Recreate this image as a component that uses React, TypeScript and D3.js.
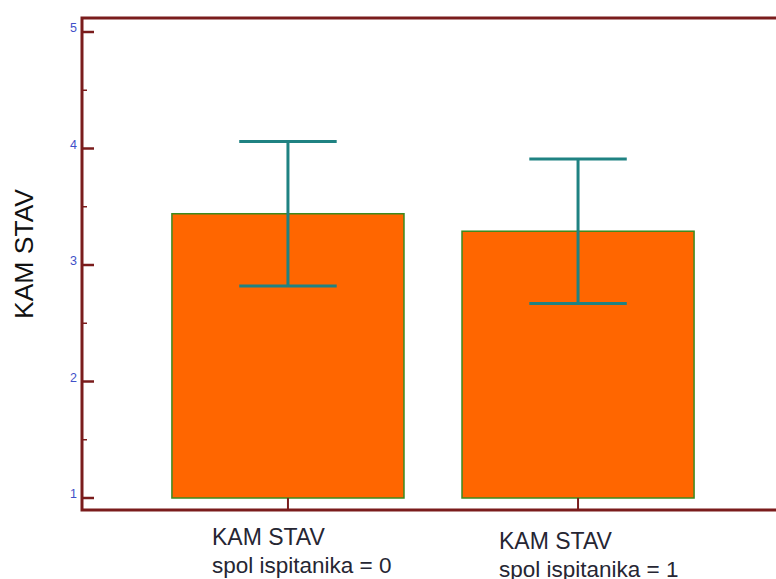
import React, { useEffect, useRef } from 'react';
import * as d3 from 'd3';

// values
const groups = ['spol ispitanika = 0', 'spol ispitanika = 1'];
const variable = 'KAM STAV';
const means = [3.44, 3.29];
const errors = [0.62, 0.62];
const yTicks = [1, 2, 3, 4, 5];
const yMinorTicks = [1.5, 2.5, 3.5, 4.5];

const App: React.FC = () => {
  const svgRef = useRef<SVGSVGElement>(null);

  useEffect(() => {
    if (!svgRef.current) return;
    const svg = d3.select(svgRef.current);
    svg.selectAll('*').remove();

    const frame = '#7a1c1c';
    const font = '"Liberation Sans", Arial, sans-serif';
    const left = 82, top = 18, bottom = 510, right = 784;

    const x = d3.scaleBand<string>()
      .domain(groups)
      .range([left, right])
      .paddingInner(0.2)
      .paddingOuter(0.31);

    const y = d3.scaleLinear().domain([1, 5]).range([498, 32]);

    // bars
    svg.selectAll('.bar')
      .data(groups)
      .enter()
      .append('rect')
      .attr('x', d => x(d)!)
      .attr('y', (d, i) => y(means[i]))
      .attr('width', x.bandwidth())
      .attr('height', (d, i) => y(1) - y(means[i]))
      .attr('fill', '#ff6600')
      .attr('stroke', '#3c8a1e')
      .attr('stroke-width', 1.5);

    // error bars
    const cap = x.bandwidth() * 0.21;
    groups.forEach((g, i) => {
      const cx = x(g)! + x.bandwidth() / 2;
      const hi = y(means[i] + errors[i]);
      const lo = y(means[i] - errors[i]);
      const eb = svg.append('g').attr('stroke', '#1f8282').attr('stroke-width', 3);
      eb.append('line').attr('x1', cx).attr('x2', cx).attr('y1', hi).attr('y2', lo);
      eb.append('line').attr('x1', cx - cap).attr('x2', cx + cap).attr('y1', hi).attr('y2', hi);
      eb.append('line').attr('x1', cx - cap).attr('x2', cx + cap).attr('y1', lo).attr('y2', lo);
    });

    // frame
    svg.append('path')
      .attr('d', `M${right},${top}H${left}V${bottom}H${right}`)
      .attr('fill', 'none')
      .attr('stroke', frame)
      .attr('stroke-width', 3);

    // y ticks
    svg.selectAll('.ymaj')
      .data(yTicks)
      .enter()
      .append('line')
      .attr('x1', left).attr('x2', left + 12)
      .attr('y1', d => y(d)).attr('y2', d => y(d))
      .attr('stroke', frame).attr('stroke-width', 2.5);

    svg.selectAll('.ymin')
      .data(yMinorTicks)
      .enter()
      .append('line')
      .attr('x1', left).attr('x2', left + 5)
      .attr('y1', d => y(d)).attr('y2', d => y(d))
      .attr('stroke', frame).attr('stroke-width', 1.5);

    svg.selectAll('.ylab')
      .data(yTicks)
      .enter()
      .append('text')
      .attr('x', left - 5)
      .attr('y', d => y(d))
      .attr('text-anchor', 'end')
      .attr('font-family', font)
      .attr('font-size', 12.5)
      .attr('fill', '#3f50c8')
      .text(d => d);

    // x ticks
    groups.forEach(g => {
      const cx = x(g)! + x.bandwidth() / 2;
      svg.append('line')
        .attr('x1', cx).attr('x2', cx)
        .attr('y1', bottom).attr('y2', y(1))
        .attr('stroke', frame).attr('stroke-width', 2);
    });

    // x labels (second one sits a little lower, as in the source)
    groups.forEach((g, i) => {
      const cx = x(g)! + x.bandwidth() / 2;
      const lx = cx - 76 - i * 3;
      const t = svg.append('text')
        .attr('font-family', font)
        .attr('font-size', 23)
        .attr('fill', '#262633');
      t.append('tspan').attr('x', lx).attr('y', 545 + i * 4).text(variable);
      t.append('tspan').attr('x', lx).attr('y', 573 + i * 4).attr('font-size', 22.5).text(g);
    });

    // y title
    svg.append('text')
      .attr('transform', `translate(33, 254) rotate(-90)`)
      .attr('text-anchor', 'middle')
      .attr('font-family', font)
      .attr('font-size', 26.5)
      .attr('fill', '#111')
      .text(variable);
  }, []);

  return (
    <svg
      ref={svgRef}
      width={776}
      height={579}
      viewBox="0 0 776 579"
      style={{ position: 'absolute', left: 0, top: 0, background: '#fff' }}
    />
  );
};

export default App;
